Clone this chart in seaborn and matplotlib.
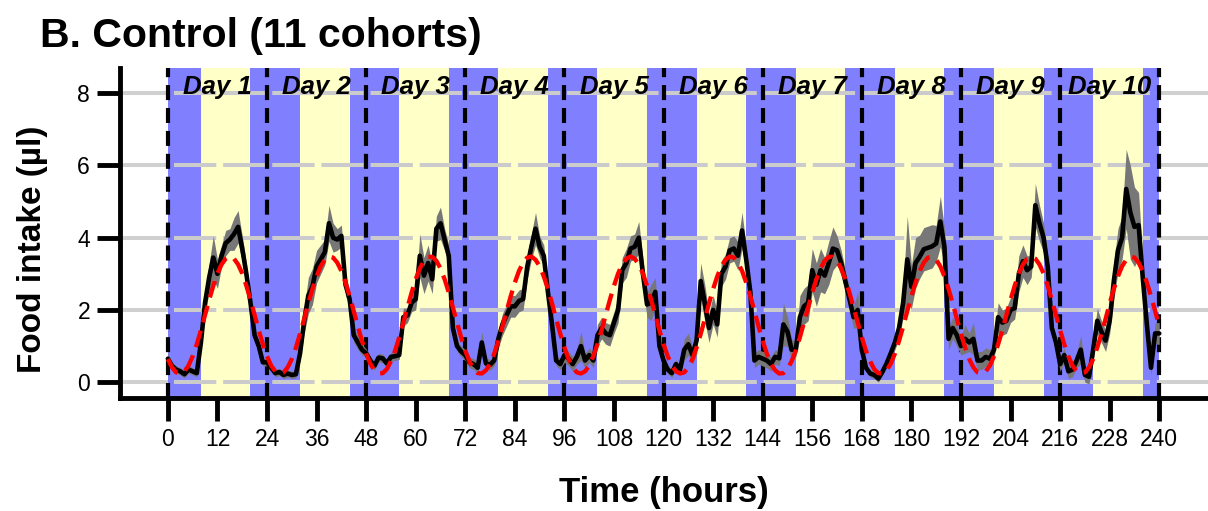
import matplotlib
matplotlib.use("Agg")
import matplotlib.pyplot as plt
import seaborn as sns
import numpy as np

# --- data (hourly, 0..240 h) ---
hours = list(range(0, 241))

intake_mean = [
    # day 1 (0-23)
    0.65, 0.45, 0.35, 0.30, 0.22, 0.35, 0.30, 0.25, 1.10, 2.20, 2.90, 3.45,
    3.00, 3.50, 3.85, 3.95, 4.10, 4.30, 3.70, 3.00, 2.20, 1.30, 1.00, 0.55,
    # day 2 (24-47)
    0.55, 0.40, 0.25, 0.28, 0.20, 0.24, 0.20, 0.22, 0.80, 1.70, 2.40, 2.65,
    3.20, 3.40, 3.60, 4.40, 4.00, 3.95, 4.05, 2.70, 2.30, 1.30, 1.10, 0.90,
    # day 3 (48-71)
    0.80, 0.60, 0.45, 0.68, 0.66, 0.52, 0.70, 0.72, 0.75, 1.80, 1.85, 2.20,
    2.30, 3.50, 2.95, 3.30, 2.85, 4.25, 4.40, 3.95, 3.50, 1.50, 1.00, 0.85,
    # day 4 (72-95)
    0.75, 0.55, 0.50, 0.40, 1.10, 0.52, 0.48, 0.60, 1.20, 1.60, 1.85, 2.10,
    2.10, 2.25, 2.30, 3.20, 3.75, 4.25, 3.75, 3.50, 2.50, 1.60, 0.60, 0.50,
    # day 5 (96-119)
    0.75, 0.65, 0.50, 0.70, 1.00, 0.60, 0.75, 0.60, 1.30, 1.50, 1.35, 1.30,
    1.65, 2.00, 3.10, 3.30, 3.70, 3.75, 4.00, 3.00, 2.15, 2.20, 2.50, 1.00,
    # day 6 (120-143)
    0.60, 0.35, 0.25, 0.50, 0.35, 0.90, 1.05, 0.75, 1.16, 2.80, 2.18, 1.50,
    2.00, 1.60, 3.00, 3.20, 3.65, 3.70, 3.50, 4.20, 3.40, 2.50, 0.60, 0.70,
    # day 7 (144-167)
    0.65, 0.60, 0.50, 0.70, 0.66, 1.60, 1.40, 0.90, 0.90, 1.80, 2.10, 2.20,
    3.10, 2.70, 3.10, 2.95, 3.30, 3.70, 3.65, 3.30, 2.80, 2.30, 1.80, 2.00,
    # day 8 (168-191)
    0.90, 0.40, 0.24, 0.20, 0.10, 0.29, 0.52, 0.80, 1.10, 1.50, 2.20, 3.40,
    2.64, 3.30, 3.47, 3.68, 3.72, 3.76, 3.84, 4.45, 3.75, 1.20, 1.50, 1.30,
    # day 9 (192-215)
    1.00, 1.20, 1.10, 1.20, 0.60, 0.60, 0.70, 0.65, 0.90, 1.80, 1.65, 1.70,
    2.00, 2.05, 3.00, 3.35, 3.10, 3.20, 4.90, 4.40, 4.00, 3.20, 1.50, 1.10,
    # day 10 (216-240)
    0.50, 0.75, 0.30, 0.35, 0.60, 0.90, 0.20, 0.15, 0.90, 1.70, 1.40, 1.15,
    1.70, 2.80, 3.65, 4.00, 5.35, 4.70, 4.30, 4.35, 2.90, 1.60, 0.40, 1.35,
    1.35,
]

intake_se = [
    0.15, 0.10, 0.10, 0.10, 0.10, 0.10, 0.10, 0.10, 0.20, 0.30, 0.40, 0.60,
    0.40, 0.30, 0.35, 0.30, 0.45, 0.45, 0.35, 0.30, 0.20, 0.20, 0.15, 0.10,
    0.10, 0.10, 0.10, 0.10, 0.10, 0.10, 0.10, 0.10, 0.20, 0.35, 0.50, 0.50,
    0.45, 0.40, 0.35, 0.50, 0.40, 0.30, 0.30, 0.30, 0.25, 0.20, 0.20, 0.15,
    0.12, 0.12, 0.12, 0.12, 0.12, 0.12, 0.12, 0.12, 0.12, 0.25, 0.20, 0.25,
    0.30, 0.60, 0.50, 0.50, 0.40, 0.35, 0.45, 0.30, 0.30, 0.20, 0.15, 0.15,
    0.15, 0.15, 0.15, 0.15, 0.30, 0.15, 0.15, 0.15, 0.25, 0.30, 0.30, 0.30,
    0.30, 0.30, 0.30, 0.35, 0.35, 0.45, 0.30, 0.30, 0.25, 0.20, 0.15, 0.15,
    0.20, 0.20, 0.20, 0.20, 0.40, 0.20, 0.20, 0.20, 0.30, 0.30, 0.30, 0.30,
    0.30, 0.35, 0.35, 0.40, 0.35, 0.35, 0.45, 0.40, 0.35, 0.50, 0.40, 0.25,
    0.12, 0.12, 0.12, 0.12, 0.12, 0.30, 0.30, 0.25, 0.40, 0.50, 0.50, 0.40,
    0.40, 0.35, 0.35, 0.35, 0.35, 0.35, 0.40, 0.50, 0.35, 0.30, 0.20, 0.20,
    0.20, 0.20, 0.20, 0.20, 0.20, 0.60, 0.40, 0.30, 0.20, 0.60, 0.50, 0.50,
    0.60, 0.60, 0.60, 0.50, 0.60, 0.60, 0.40, 0.35, 0.30, 0.30, 0.30, 0.50,
    0.20, 0.10, 0.10, 0.10, 0.10, 0.10, 0.10, 0.15, 0.20, 0.30, 0.40, 1.20,
    0.60, 0.70, 0.60, 0.60, 0.60, 0.60, 0.50, 0.70, 0.50, 0.30, 0.30, 0.30,
    0.25, 0.40, 0.25, 0.45, 0.25, 0.25, 0.25, 0.25, 0.25, 0.40, 0.35, 0.35,
    0.35, 0.30, 0.50, 0.45, 0.40, 0.30, 0.60, 0.50, 0.40, 0.30, 0.20, 0.20,
    0.20, 0.20, 0.20, 0.20, 0.20, 0.40, 0.20, 0.20, 0.30, 0.35, 0.30, 0.30,
    0.35, 0.50, 0.60, 0.60, 1.10, 1.30, 1.10, 0.90, 0.50, 0.30, 0.20, 0.30,
    0.30,
]

# red dashed cosinor fit
cosinor_fit = [
    0.64, 0.41, 0.27, 0.24, 0.30, 0.46, 0.72, 1.05, 1.44, 1.86, 2.28, 2.67,
    3.01, 3.26, 3.42, 3.48, 3.42, 3.26, 3.01, 2.67, 2.28, 1.86, 1.44, 1.05,
    0.72, 0.46, 0.30, 0.24, 0.27, 0.41, 0.64, 0.96, 1.34, 1.75, 2.18, 2.58,
    2.93, 3.21, 3.39, 3.48, 3.45, 3.31, 3.08, 2.76, 2.38, 1.97, 1.54, 1.14,
    0.79, 0.51, 0.33, 0.24, 0.25, 0.36, 0.58, 0.87, 1.24, 1.65, 2.07, 2.48,
    2.85, 3.15, 3.36, 3.47, 3.47, 3.36, 3.15, 2.85, 2.48, 2.07, 1.65, 1.24,
    0.87, 0.58, 0.36, 0.25, 0.24, 0.33, 0.51, 0.79, 1.14, 1.54, 1.97, 2.38,
    2.76, 3.08, 3.31, 3.45, 3.48, 3.39, 3.21, 2.93, 2.58, 2.18, 1.75, 1.34,
    0.96, 0.64, 0.41, 0.27, 0.24, 0.30, 0.46, 0.72, 1.05, 1.44, 1.86, 2.28,
    2.67, 3.01, 3.26, 3.42, 3.48, 3.42, 3.26, 3.01, 2.67, 2.28, 1.86, 1.44,
    1.05, 0.72, 0.46, 0.30, 0.24, 0.27, 0.41, 0.64, 0.96, 1.34, 1.75, 2.18,
    2.58, 2.93, 3.21, 3.39, 3.48, 3.45, 3.31, 3.08, 2.76, 2.38, 1.97, 1.54,
    1.14, 0.79, 0.51, 0.33, 0.24, 0.25, 0.36, 0.58, 0.87, 1.24, 1.65, 2.07,
    2.48, 2.85, 3.15, 3.36, 3.47, 3.47, 3.36, 3.15, 2.85, 2.48, 2.07, 1.65,
    1.24, 0.87, 0.58, 0.36, 0.25, 0.24, 0.33, 0.51, 0.79, 1.14, 1.54, 1.97,
    2.38, 2.76, 3.08, 3.31, 3.45, 3.48, 3.39, 3.21, 2.93, 2.58, 2.18, 1.75,
    1.34, 0.96, 0.64, 0.41, 0.27, 0.24, 0.30, 0.46, 0.72, 1.05, 1.44, 1.86,
    2.28, 2.67, 3.01, 3.26, 3.42, 3.48, 3.42, 3.26, 3.01, 2.67, 2.28, 1.86,
    1.44, 1.05, 0.72, 0.46, 0.30, 0.24, 0.27, 0.41, 0.64, 0.96, 1.34, 1.75,
    2.18, 2.58, 2.93, 3.21, 3.39, 3.48, 3.45, 3.31, 3.08, 2.76, 2.38, 1.97,
    1.54,
]

lights_on = [8, 32, 56, 80, 104, 128, 152, 176, 200, 224]
lights_off = [20, 44, 68, 92, 116, 140, 164, 188, 212, 236]
midnights = [0, 24, 48, 72, 96, 120, 144, 168, 192, 216, 240]
day_centres = [12, 36, 60, 84, 108, 132, 156, 180, 204, 228]
day_labels = ["Day 1", "Day 2", "Day 3", "Day 4", "Day 5",
              "Day 6", "Day 7", "Day 8", "Day 9", "Day 10"]
x_ticks = list(range(0, 241, 12))
y_ticks = [0, 2, 4, 6, 8]

# --- style ---
sns.set_theme(style="ticks", rc={
    "text.color": "black", "axes.labelcolor": "black",
    "xtick.color": "black", "ytick.color": "black",
    "axes.edgecolor": "black",
})
plt.rcParams["font.family"] = ["Liberation Sans", "DejaVu Sans"]

fig = plt.figure(figsize=(12.08, 5.11), dpi=100)
ax = fig.add_axes([0.0993, 0.221, 0.9007, 0.646])

# solid grid (shows outside the coloured bands)
for y in y_ticks:
    ax.axhline(y, color="#d0d0d0", lw=2.9, zorder=0.5)

# dark (blue) / light (yellow) phases
ax.axvspan(midnights[0], midnights[-1], color="#8080ff", lw=0, zorder=1)
for on, off in zip(lights_on, lights_off):
    ax.axvspan(on, off, color="#ffffc8", lw=0, zorder=1.1)

# dashed grid drawn over the bands
ax.hlines(y_ticks, 1.5, 240, colors="#cbcbcb", lw=2.9,
          linestyles=[(0, (10.5, 1.7))], zorder=1.5)

# midnight markers
for m in midnights:
    ax.axvline(m, color="black", lw=3, linestyle=(0, (3.6, 1.9)), zorder=2)

# SEM ribbon + mean + cosinor fit
mean = np.array(intake_mean)
se = np.array(intake_se)
ax.fill_between(hours, mean - se, mean + se, color="#777777", lw=0, zorder=2.5)
sns.lineplot(x=hours, y=intake_mean, color="black", lw=3.3, ax=ax, zorder=3)
sns.lineplot(x=hours, y=cosinor_fit, color="#ff0000", lw=3.1,
             linestyle=(0, (4.0, 2.0)), ax=ax, zorder=4)

for c, lab in zip(day_centres, day_labels):
    ax.text(c, 7.98, lab, ha="center", va="baseline", fontsize=18.5,
            fontweight="bold", fontstyle="italic", zorder=5)

ax.set_xlim(-11.6, 251.8)
ax.set_ylim(-0.44, 8.70)
ax.set_xticks(x_ticks)
ax.set_yticks(y_ticks)
ax.tick_params(axis="both", length=16.5, width=3.5, labelsize=16.5, pad=5)
for side in ["top", "right"]:
    ax.spines[side].set_visible(False)
for side in ["left", "bottom"]:
    ax.spines[side].set_linewidth(3.5)

ax.set_xlabel("Time (hours)", fontsize=25, fontweight="bold")
ax.set_ylabel("Food intake (µl)", fontsize=24, fontweight="bold")
ax.xaxis.set_label_coords(0.5, -0.236)
ax.yaxis.set_label_coords(-0.066, 0.45)

fig.text(40 / 1208, 1 - 47 / 511, "B. Control (11 cohorts)", fontsize=29.5,
         fontweight="bold", ha="left", va="baseline")

fig.savefig("out.png", dpi=100)
